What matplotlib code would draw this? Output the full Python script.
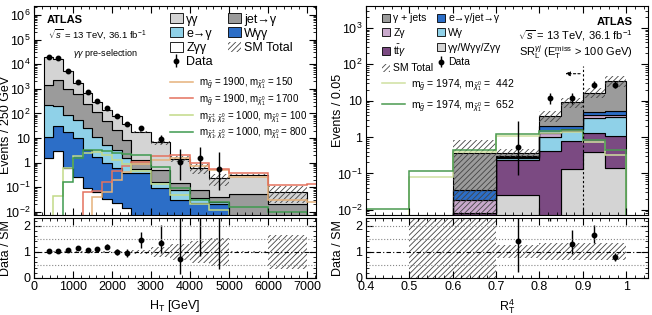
import numpy as np
import matplotlib
matplotlib.use("Agg")
import matplotlib.pyplot as plt
from matplotlib.ticker import LogLocator, MultipleLocator, FuncFormatter, NullFormatter
from matplotlib.patches import Patch

plt.rcParams['font.family'] = ['Liberation Sans', 'DejaVu Sans']
plt.rcParams['mathtext.fontset'] = 'custom'
plt.rcParams['mathtext.rm'] = 'Liberation Sans'
plt.rcParams['mathtext.it'] = 'Liberation Sans:italic'
plt.rcParams['mathtext.bf'] = 'Liberation Sans:bold'
plt.rcParams['hatch.linewidth'] = 0.6
for a in ('xtick', 'ytick'):
    plt.rcParams[a + '.direction'] = 'in'
    plt.rcParams[a + '.major.size'] = 5
    plt.rcParams[a + '.minor.size'] = 2.5
    plt.rcParams[a + '.labelsize'] = 9
    plt.rcParams[a + '.major.pad'] = 2.5

# ---------------- left panel: H_T ----------------
ht_edges = [250, 500, 750, 1000, 1250, 1500, 1750, 2000, 2250, 2500, 3000, 3500, 4000, 4500, 5000, 6000, 7000]
ht_edges_sig = ht_edges + [8000]
ht_zgg = [1.6, 3.0, 0.62, 0.27, 0.09, 0.065, 0.035, 0.022, 0.015, 0, 0, 0, 0, 0, 0, 0]
ht_wgg = [9.4, 28, 17.4, 9.5, 3.2, 1.7, 0.9, 0.58, 0.38, 0.37, 0.09, 0.031, 0.022, 0.02, 0, 0]
ht_efake = [200, 160, 70, 45, 22, 9, 4.5, 2.7, 1.1, 0.18, 0.08, 0.044, 0.015, 0.005, 0, 0]
ht_jetfake = [1240, 2110, 910, 545, 225, 99, 45, 17, 6.5, 0.75, 0.33, 0.075, 0.043, 0.015, 0.055, 0.02]
ht_gg = [18150, 14400, 4050, 1120, 423, 180, 84, 59, 29.5, 16.9, 6.1, 1.3, 0.52, 0.19, 0.265, 0.045]
ht_unc = [0.02, 0.02, 0.02, 0.03, 0.03, 0.03, 0.04, 0.05, 0.05, 0.09, 0.19, 0.3, 0.42, 0.53, 0.04, 0.66]

ht_data = [20000, 17000, 5400, 1960, 720, 322, 162, 79, 36, 26.6, 8.9, 1.05, 1.6, 0.56]
ht_data_lo = [140, 130, 73, 44, 27, 18, 13, 9, 6, 5.5, 2.6, 0.85, 1.1, 0.48]
ht_data_hi = [140, 130, 73, 44, 27, 18, 13, 9, 6, 5.5, 4.5, 2.65, 2.9, 2.2]

ht_sig_1900_150 = [0, 0, 0, 0, 0, 0.04, 0.066, 0.2, 0.4, 0.87, 1.3, 1.5, 0.75, 0.5, 0.27, 0.03, 0.025]
ht_sig_1900_1700 = [0, 0, 0, 0, 0.066, 0.07, 0.17, 0.45, 0.7, 1.1, 1.9, 2.0, 0.95, 0.55, 0.38, 0.12, 0.14]
ht_sig_1000_100 = [0, 0.045, 0.6, 1.8, 2.5, 2.6, 2.0, 1.3, 0.9, 0.45, 0.13, 0.05, 0.02, 0.012, 0.006, 0.003, 0]
ht_sig_1000_800 = [0, 0, 0.17, 1.5, 3.3, 3.3, 3.0, 2.5, 2.3, 2.0, 0.69, 0.09, 0.031, 0.025, 0.016, 0.01, 0]

# ---------------- right panel: R_T^4 ----------------
rt_edges = [0.4, 0.5, 0.6, 0.7, 0.8, 0.85, 0.9, 0.95, 1.0]
rt_ggmulti = [0, 0, 0, 0.025, 0, 0.13, 0.4, 0.14]
rt_ttg = [0, 0, 0.008, 0.215, 0.42, 0.65, 0.9, 0.96]
rt_wg = [0, 0, 0, 0.03, 0.58, 0.72, 2.1, 2.4]
rt_zg = [0, 0, 0.011, 0.02, 0.3, 0.15, 0.6, 0.5]
rt_efake = [0, 0, 0.017, 0.02, 0.7, 0.35, 1.0, 1.2]
rt_gjets = [0, 0.001, 0.324, 0.06, 1.8, 6.9, 11.7, 29.8]
rt_unc_dn = [0, 1.0, 1.0, 0.23, 0.32, 0.3, 0.3, 0.32]
rt_unc_up = [0, 1.3, 1.3, 0.28, 0.36, 0.36, 0.36, 0.35]

rt_data = [np.nan, np.nan, np.nan, 0.52, 11.7, 11.7, 27.6, 27.6]
rt_data_lo = [0, 0, 0, 0.43, 3.4, 3.4, 5.2, 5.2]
rt_data_hi = [0, 0, 0, 2.23, 4.5, 4.5, 6.3, 6.3]

rt_sig_442 = [0, 0.08, 0.38, 1.1, 1.3, 1.4, 0.75, 0.33]
rt_sig_652 = [0.0105, 0.114, 0.43, 1.2, 1.5, 1.6, 0.85, 0.45]

C_LGREY = '#d4d4d4'
C_DGREY = '#9b9b9b'
C_LBLUE = '#8fd1e8'
C_BLUE = '#2c6ec7'
C_PURPLE = '#7b4a82'
C_LPURPLE = '#c9a9cc'
FLOOR = 1e-6


def draw_stack(ax, edges, comps):
    bottom = np.full(len(edges) - 1, FLOOR)
    for vals, col in comps:
        top = bottom + np.asarray(vals, float)
        ax.stairs(top, edges, baseline=bottom, fill=True, facecolor=col,
                  edgecolor='black', lw=0.8)
        bottom = top
    return bottom


def draw_band(ax, edges, lo, hi):
    ax.stairs(hi, edges, baseline=np.maximum(lo, FLOOR), fill=True, facecolor='none',
              edgecolor='#444444', hatch='//////', lw=0)


def log_fmt(v, pos):
    n = int(round(np.log10(v)))
    if n == 0:
        return '1'
    if n == 1:
        return '10'
    return r'$10^{%d}$' % n


def style_main(ax):
    ax.set_yscale('log')
    ax.yaxis.set_major_locator(LogLocator(base=10, numticks=20))
    ax.yaxis.set_minor_locator(LogLocator(base=10, subs=np.arange(2, 10), numticks=20))
    ax.yaxis.set_major_formatter(FuncFormatter(log_fmt))
    ax.yaxis.set_minor_formatter(NullFormatter())
    ax.tick_params(which='both', top=True, right=True, labelbottom=False)


def style_ratio(ax):
    ax.set_ylim(0, 2.3)
    ax.yaxis.set_major_locator(MultipleLocator(1))
    ax.yaxis.set_minor_locator(MultipleLocator(0.2))
    ax.tick_params(which='both', top=True, right=True)
    for yv in (0.5, 1.5, 2.0):
        ax.axhline(yv, color='#888888', ls=':', lw=0.8)
    ax.axhline(1.0, color='black', ls=(0, (4, 2, 1, 2)), lw=0.8)
    ax.set_ylabel('Data / SM', fontsize=9)
    ax.yaxis.set_label_coords(-0.078, 0.5)


fig = plt.figure(figsize=(6.52, 3.15), dpi=100)
axL = fig.add_axes([0.0521, 0.3175, 0.4325, 0.6635])
rL = fig.add_axes([0.0521, 0.1175, 0.4325, 0.1905])
axR = fig.add_axes([0.5613, 0.3175, 0.4325, 0.6635])
rR = fig.add_axes([0.5613, 0.1175, 0.4325, 0.1905])

# ---- left main
ht_e = np.array(ht_edges, float)
ht_c = 0.5 * (ht_e[:-1] + ht_e[1:])
totL = draw_stack(axL, ht_e, [(ht_zgg, 'white'), (ht_wgg, C_BLUE), (ht_efake, C_LBLUE),
                              (ht_jetfake, C_DGREY), (ht_gg, C_LGREY)])
uL = np.array(ht_unc)
draw_band(axL, ht_e, totL * (1 - uL), totL * (1 + uL))

sig_cols = ['#e6b27a', '#e4725e', '#c2da88', '#3f9a4f']
sigs = [ht_sig_1900_150, ht_sig_1900_1700, ht_sig_1000_100, ht_sig_1000_800]
for s, c in zip(sigs, sig_cols):
    axL.stairs(s, ht_edges_sig, color=c, lw=1.1)

nd = len(ht_data)
deb = axL.errorbar(ht_c[:nd], ht_data, yerr=[ht_data_lo, ht_data_hi], fmt='o', color='black',
                   ms=3.2, lw=1.0, capsize=0)
axL.set_xlim(0, 7230)
axL.set_ylim(7.5e-3, 2.3e6)
style_main(axL)
axL.xaxis.set_major_locator(MultipleLocator(1000))
axL.xaxis.set_minor_locator(MultipleLocator(200))
axL.set_ylabel('Events / 250 GeV', fontsize=9)
axL.yaxis.set_label_coords(-0.078, 0.43)

axL.text(0.046, 0.933, 'ATLAS', transform=axL.transAxes, fontsize=8, fontweight='bold', va='center')
axL.text(0.05, 0.866, r'$\sqrt{s}$ = 13 TeV, 36.1 fb$^{-1}$', transform=axL.transAxes, fontsize=6.8, va='center')
axL.text(0.138, 0.775, r'$\gamma\gamma$ pre-selection', transform=axL.transAxes, fontsize=6.5, va='center')

h_stack = [Patch(facecolor=C_LGREY, edgecolor='black', lw=0.6),
           Patch(facecolor=C_LBLUE, edgecolor='black', lw=0.6),
           Patch(facecolor='white', edgecolor='black', lw=0.6),
           deb,
           Patch(facecolor=C_DGREY, edgecolor='black', lw=0.6),
           Patch(facecolor=C_BLUE, edgecolor='black', lw=0.6),
           Patch(facecolor='none', edgecolor='#444444', hatch='//////', lw=0)]
l_stack = ['γγ', 'e→γ', 'Zγγ', 'Data', 'jet→γ', 'Wγγ', 'SM Total']
leg1 = axL.legend(h_stack, l_stack, ncol=2, loc='upper left', bbox_to_anchor=(0.482, 0.965),
                  frameon=False, fontsize=9, borderpad=0, borderaxespad=0, handlelength=1.05,
                  handleheight=0.85, handletextpad=0.25, columnspacing=1.2, labelspacing=0.15)
axL.add_artist(leg1)
h_sig = [plt.Line2D([], [], color=c, lw=1.1) for c in sig_cols]
l_sig = [r'm$_{\tilde{g}}$ = 1900, m$_{\tilde{\chi}^0_1}$ = 150',
         r'm$_{\tilde{g}}$ = 1900, m$_{\tilde{\chi}^0_1}$ = 1700',
         r'm$_{\tilde{\chi}^{\pm}_1,\,\tilde{\chi}^0_2}$ = 1000, m$_{\tilde{\chi}^0_1}$ = 100',
         r'm$_{\tilde{\chi}^{\pm}_1,\,\tilde{\chi}^0_2}$ = 1000, m$_{\tilde{\chi}^0_1}$ = 800']
axL.legend(h_sig, l_sig, loc='upper left', bbox_to_anchor=(0.482, 0.67), frameon=False,
           fontsize=7, borderpad=0, borderaxespad=0, handlelength=2.4, handletextpad=0.6,
           labelspacing=0.1)

# ---- left ratio
rL.stairs(1 + uL, ht_e, baseline=1 - uL, fill=True, facecolor='none', edgecolor='#444444',
          hatch='//////', lw=0)
rat = np.array(ht_data) / totL[:nd]
rL.errorbar(ht_c[:nd], rat, yerr=[np.array(ht_data_lo) / totL[:nd], np.array(ht_data_hi) / totL[:nd]],
            fmt='o', color='black', ms=3.2, lw=1.0, capsize=0)
rL.set_xlim(0, 7230)
style_ratio(rL)
rL.xaxis.set_major_locator(MultipleLocator(1000))
rL.xaxis.set_minor_locator(MultipleLocator(200))
rL.set_xlabel(r'H$_{\rm T}$ [GeV]', fontsize=9)
rL.xaxis.set_label_coords(0.5, -0.33)

# ---- right main
rt_e = np.array(rt_edges, float)
rt_c = 0.5 * (rt_e[:-1] + rt_e[1:])
totR = draw_stack(axR, rt_e, [(rt_ggmulti, C_LGREY), (rt_ttg, C_PURPLE), (rt_wg, C_LBLUE),
                              (rt_zg, C_LPURPLE), (rt_efake, C_BLUE), (rt_gjets, C_DGREY)])
dn = np.array(rt_unc_dn)
up = np.array(rt_unc_up)
draw_band(axR, rt_e, totR * (1 - dn), totR * (1 + up))
sigR_cols = ['#cfe0a0', '#4a9a50']
for s, c in zip([rt_sig_442, rt_sig_652], sigR_cols):
    axR.stairs(s, rt_edges, color=c, lw=1.1)
debR = axR.errorbar(rt_c, rt_data, yerr=[rt_data_lo, rt_data_hi], fmt='o', color='black',
                    ms=3.2, lw=1.0, capsize=0)
axR.plot([0.9, 0.9], [FLOOR, 90], color='black', ls=(0, (2, 2)), lw=0.8)
axR.annotate('', xy=(0.853, 55), xytext=(0.9, 55),
             arrowprops=dict(arrowstyle='-|>', color='black', lw=0.8, ls=(0, (2, 2)),
                             mutation_scale=7))
axR.set_xlim(0.4, 1.05)
axR.set_ylim(7.2e-3, 4000)
style_main(axR)
axR.xaxis.set_major_locator(MultipleLocator(0.1))
axR.xaxis.set_minor_locator(MultipleLocator(0.02))
axR.set_ylabel('Events / 0.05', fontsize=9)
axR.yaxis.set_label_coords(-0.078, 0.5)

axR.text(0.947, 0.923, 'ATLAS', transform=axR.transAxes, fontsize=8, fontweight='bold',
         va='center', ha='right')
axR.text(0.947, 0.858, r'$\sqrt{s}$ = 13 TeV, 36.1 fb$^{-1}$', transform=axR.transAxes,
         fontsize=8, va='center', ha='right')
axR.text(0.947, 0.78, r'SR$_{\rm L}^{\gamma j}$ (E$_{\rm T}^{\rm miss}$ > 100 GeV)',
         transform=axR.transAxes, fontsize=8, va='center', ha='right')

h_stackR = [Patch(facecolor=C_DGREY, edgecolor='black', lw=0.6),
            Patch(facecolor=C_LPURPLE, edgecolor='black', lw=0.6),
            Patch(facecolor=C_PURPLE, edgecolor='black', lw=0.6),
            Patch(facecolor='none', edgecolor='#444444', hatch='//////', lw=0),
            Patch(facecolor=C_BLUE, edgecolor='black', lw=0.6),
            Patch(facecolor=C_LBLUE, edgecolor='black', lw=0.6),
            Patch(facecolor=C_LGREY, edgecolor='black', lw=0.6),
            debR]
l_stackR = ['γ + jets', 'Zγ', r'$\mathrm{t\bar{t}}\gamma$', 'SM Total',
            'e→γ/jet→γ', 'Wγ', 'γγ/Wγγ/Zγγ', 'Data']
legR = axR.legend(h_stackR, l_stackR, ncol=2, loc='upper left', bbox_to_anchor=(0.057, 0.965),
                  frameon=False, fontsize=7.5, borderpad=0, borderaxespad=0, handlelength=0.8,
                  handleheight=0.8, handletextpad=0.3, columnspacing=0.3, labelspacing=0.45)
axR.add_artist(legR)
h_sigR = [plt.Line2D([], [], color=c, lw=1.1) for c in sigR_cols]
l_sigR = [r'm$_{\tilde{g}}$ = 1974, m$_{\tilde{\chi}^0_1}$ =  442',
          r'm$_{\tilde{g}}$ = 1974, m$_{\tilde{\chi}^0_1}$ =  652']
axR.legend(h_sigR, l_sigR, loc='upper left', bbox_to_anchor=(0.057, 0.66), frameon=False,
           fontsize=7.5, borderpad=0, borderaxespad=0, handlelength=2.2, handletextpad=0.6,
           labelspacing=0.45)

# ---- right ratio
okR = totR > 0.01
rR.stairs(np.where(okR | (dn > 0), 1 + up, np.nan), rt_e, baseline=1 - dn, fill=True,
          facecolor='none', edgecolor='#444444', hatch='//////', lw=0)
ratR = np.array(rt_data) / totR
rR.errorbar(rt_c, ratR, yerr=[np.array(rt_data_lo) / totR, np.array(rt_data_hi) / totR],
            fmt='o', color='black', ms=3.2, lw=1.0, capsize=0)
rR.set_xlim(0.4, 1.05)
style_ratio(rR)
rR.xaxis.set_major_locator(MultipleLocator(0.1))
rR.xaxis.set_minor_locator(MultipleLocator(0.02))
rR.xaxis.set_major_formatter(FuncFormatter(lambda v, p: '%g' % round(v, 2)))
rR.set_xlabel(r'R$_{\rm T}^{4}$', fontsize=9)
rR.xaxis.set_label_coords(0.5, -0.33)

fig.savefig('out.png', dpi=100)
